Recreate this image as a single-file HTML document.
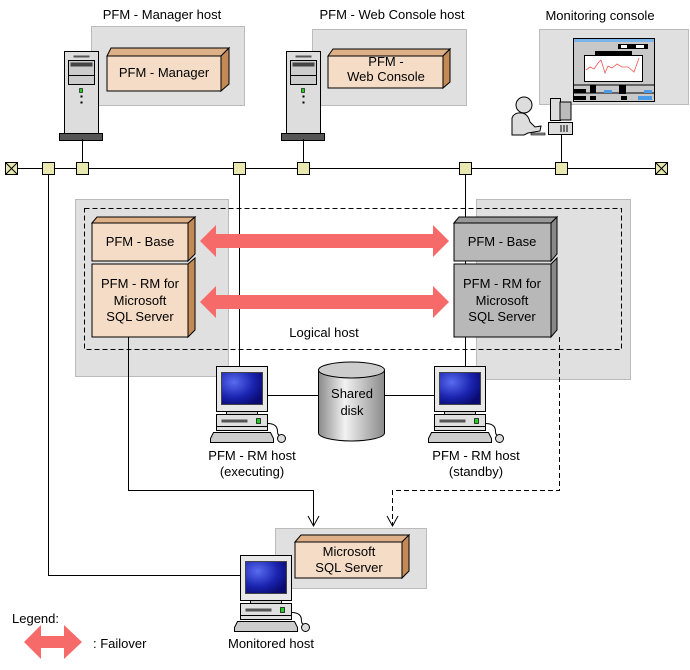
<!DOCTYPE html>
<html><head><meta charset="utf-8"><style>
html,body{margin:0;padding:0;background:#fff;}
svg{display:block;font-family:"Liberation Sans",sans-serif;}
text{font-size:13px;fill:#000;}
</style></head><body>
<svg width="690" height="670" viewBox="0 0 690 670" xmlns="http://www.w3.org/2000/svg">
<defs>
<radialGradient id="scr" cx="0.3" cy="0.3" r="0.8"><stop offset="0" stop-color="#5a6cf0"/><stop offset="0.6" stop-color="#1a24b0"/><stop offset="1" stop-color="#0a0a70"/></radialGradient>
<linearGradient id="cyl" x1="0" x2="1"><stop offset="0" stop-color="#8a8a8a"/><stop offset="0.4" stop-color="#f2f2f2"/><stop offset="1" stop-color="#8a8a8a"/></linearGradient>
<g id="pc">
 <rect x="0" y="0" width="51" height="45" fill="#e8e8e8" stroke="#000"/>
 <rect x="5" y="6" width="41" height="32" fill="url(#scr)" stroke="#444"/>
 <rect x="10" y="45" width="31" height="3" fill="#ccc" stroke="#000"/>
 <rect x="0" y="48" width="51" height="16" fill="#e0e0e0" stroke="#000"/>
 <rect x="5" y="53" width="26" height="3" fill="#555"/>
 <rect x="40" y="52" width="4" height="5" fill="#2c2" stroke="#000" stroke-width="0.7"/>
 <line x1="0" y1="60" x2="51" y2="60" stroke="#000"/>
 <polygon points="-3,66 54,66 57,72 57,76 -6,76 -6,72" fill="#ccc" stroke="#000"/>
 <path d="M51,57 q10,0 10,8 q0,4 3,4" fill="none" stroke="#000"/>
 <ellipse cx="65" cy="72" rx="4" ry="4" fill="#ddd" stroke="#000"/>
</g>
<g id="tower">
 <rect x="0" y="0" width="34" height="82" fill="#ddd" stroke="#000"/>
 <rect x="9" y="4" width="16" height="2" fill="#555"/>
 <rect x="4" y="9" width="26" height="24" fill="#ccc" stroke="#000"/>
 <rect x="6" y="11" width="22" height="4" fill="#444"/>
 <line x1="4" y1="24" x2="30" y2="24" stroke="#000"/>
 <rect x="15" y="37" width="3" height="4" fill="#2c2" stroke="#000" stroke-width="0.6"/>
 <rect x="16" y="44" width="2" height="2" fill="#000"/><rect x="16" y="50" width="2" height="2" fill="#000"/>
 <rect x="-5" y="82" width="43" height="7" fill="#555" stroke="#000"/>
</g>
</defs>

<!-- titles -->
<text x="162" y="19" text-anchor="middle">PFM - Manager host</text>
<text x="392" y="19" text-anchor="middle">PFM - Web Console host</text>
<text x="600" y="20" text-anchor="middle">Monitoring console</text>

<!-- host gray boxes -->
<rect x="91.5" y="26.5" width="153" height="79" fill="#e0e0e0" stroke="#bbb"/>
<rect x="312.5" y="29.5" width="154" height="76" fill="#e0e0e0" stroke="#bbb"/>
<rect x="539.5" y="29.5" width="149" height="75" fill="#e0e0e0" stroke="#bbb"/>

<!-- manager box -->
<polygon points="107,56 111,48 229,48 221,56" fill="#deb087" stroke="#000"/>
<polygon points="221,56 229,48 229,84 221,91" fill="#c48a55" stroke="#000"/>
<rect x="107" y="56" width="114" height="35" fill="#f5dcc6" stroke="#000"/>
<text x="164" y="77" text-anchor="middle">PFM - Manager</text>
<!-- web console box -->
<polygon points="328,56 333,49 450,49 443,56" fill="#deb087" stroke="#000"/>
<polygon points="443,56 450,49 450,82 443,88" fill="#c48a55" stroke="#000"/>
<rect x="328" y="56" width="115" height="32" fill="#f5dcc6" stroke="#000"/>
<text x="386" y="66" text-anchor="middle">PFM -</text>
<text x="386" y="81" text-anchor="middle">Web Console</text>

<use href="#tower" x="64.5" y="51.5"/>
<use href="#tower" x="286.5" y="51.5"/>

<!-- monitoring console -->
<rect x="573.5" y="38.5" width="81" height="63" fill="#c8c8c8" stroke="#000"/>
<rect x="574" y="39" width="80" height="3" fill="#7ab4e8"/>
<rect x="618" y="44" width="30" height="5" fill="#000"/><rect x="621" y="45" width="6" height="3" fill="#fff"/><rect x="636" y="45" width="8" height="3" fill="#fff"/>
<rect x="595" y="51" width="37" height="4" fill="#000"/>
<rect x="584.5" y="55.5" width="58" height="26" fill="#fff" stroke="#000"/>
<polyline points="586,70 590,67 594,69 598,63 601,60 605,73 608,66 612,68 617,64 622,67 628,67 634,72 639,58" fill="none" stroke="#e55" stroke-width="0.8"/>
<line x1="573" y1="85" x2="654" y2="85" stroke="#000"/>
<line x1="573" y1="93" x2="654" y2="93" stroke="#000"/>
<rect x="574" y="89" width="12" height="4" fill="#000"/><rect x="590" y="85" width="6" height="8" fill="#000"/><rect x="604" y="90" width="8" height="3" fill="#4a9be8"/><rect x="619" y="85" width="7" height="9" fill="#000"/><rect x="644" y="90" width="8" height="3" fill="#4a9be8"/>
<rect x="574" y="96" width="12" height="4" fill="#000"/><rect x="590" y="96" width="6" height="4" fill="#000"/><rect x="621" y="96" width="6" height="4" fill="#000"/><rect x="638" y="96" width="14" height="4" fill="#4a9be8"/>
<!-- person and pc -->
<circle cx="524" cy="105" r="8" fill="#ddd" stroke="#000"/>
<path d="M512,135 L512,118 Q514,112 522,113 Q528,114 530,122 L535,127 L541,126 L540,131 L528,133 L524,135 Z" fill="#ddd" stroke="#000"/>
<rect x="531" y="133" width="14" height="2" fill="#999" stroke="#000" stroke-width="0.6"/>
<rect x="550.5" y="98.5" width="10" height="22" fill="#ddd" stroke="#000"/>
<rect x="560" y="102" width="11" height="18" fill="#bbb" stroke="#000"/>
<rect x="548.5" y="122.5" width="24" height="12" fill="#ddd" stroke="#000"/>
<line x1="561" y1="125" x2="561" y2="132" stroke="#000"/><line x1="564" y1="125" x2="564" y2="132" stroke="#000"/><line x1="567" y1="125" x2="567" y2="132" stroke="#000"/>

<!-- network -->
<g stroke="#000" fill="none">
<line x1="12" y1="168.5" x2="662" y2="168.5"/>
<line x1="82.5" y1="139" x2="82.5" y2="168"/>
<line x1="303.5" y1="139" x2="303.5" y2="168"/>
<line x1="561.5" y1="135" x2="561.5" y2="168"/>
<line x1="239.5" y1="168" x2="239.5" y2="366"/>
<line x1="465.5" y1="168" x2="465.5" y2="366"/>
<polyline points="48.5,168 48.5,575.5 240,575.5"/>
</g>
<g fill="#e8e8b0" stroke="#000">
<rect x="42.5" y="162.5" width="12" height="12"/><rect x="76.5" y="162.5" width="12" height="12"/><rect x="233.5" y="162.5" width="12" height="12"/><rect x="297.5" y="162.5" width="12" height="12"/><rect x="459.5" y="162.5" width="12" height="12"/><rect x="555.5" y="162.5" width="12" height="12"/>
<rect x="5.5" y="162.5" width="12" height="12"/><rect x="655.5" y="162.5" width="12" height="12"/>
</g>
<g stroke="#000"><line x1="5.5" y1="162.5" x2="17.5" y2="174.5"/><line x1="17.5" y1="162.5" x2="5.5" y2="174.5"/><line x1="655.5" y1="162.5" x2="667.5" y2="174.5"/><line x1="667.5" y1="162.5" x2="655.5" y2="174.5"/></g>

<!-- cluster -->
<rect x="75.5" y="199.5" width="153" height="177" fill="#e0e0e0" stroke="#bbb"/>
<rect x="476.5" y="199.5" width="154" height="180" fill="#e0e0e0" stroke="#bbb"/>
<rect x="84.5" y="208.5" width="537" height="141" fill="none" stroke="#000" stroke-dasharray="5,3"/>
<line x1="239.5" y1="199" x2="239.5" y2="366" stroke="#000"/>
<line x1="465.5" y1="199" x2="465.5" y2="366" stroke="#000"/>

<!-- left boxes -->
<polygon points="92,223 97,217 195,217 188,223" fill="#deb087" stroke="#000"/>
<polygon points="188,223 195,217 195,254 188,261" fill="#c48a55" stroke="#000"/>
<rect x="92" y="223" width="96" height="38" fill="#f5dcc6" stroke="#000"/>
<text x="140" y="246" text-anchor="middle">PFM - Base</text>
<polygon points="188,264 195,258 195,330 188,337" fill="#c48a55" stroke="#000"/>
<rect x="92" y="264" width="96" height="73" fill="#f5dcc6" stroke="#000"/>
<text x="140" y="288" text-anchor="middle">PFM - RM for</text>
<text x="140" y="305" text-anchor="middle">Microsoft</text>
<text x="140" y="321" text-anchor="middle">SQL Server</text>
<!-- right boxes -->
<polygon points="454,223 459,217 557,217 551,223" fill="#999" stroke="#000"/>
<polygon points="551,223 557,217 557,254 551,261" fill="#888" stroke="#000"/>
<rect x="454" y="223" width="97" height="38" fill="#b8b8b8" stroke="#000"/>
<text x="502" y="246" text-anchor="middle">PFM - Base</text>
<polygon points="551,264 557,258 557,330 551,337" fill="#888" stroke="#000"/>
<rect x="454" y="264" width="97" height="73" fill="#b8b8b8" stroke="#000"/>
<text x="502" y="288" text-anchor="middle">PFM - RM for</text>
<text x="502" y="305" text-anchor="middle">Microsoft</text>
<text x="502" y="321" text-anchor="middle">SQL Server</text>
<text x="324" y="337" text-anchor="middle">Logical host</text>

<!-- failover arrows -->
<polygon points="200,241 216,225 216,234 433,234 433,225 449,241 433,257 433,248 216,248 216,257" fill="#f76a6a"/>
<polygon points="200,302 216,286 216,295 433,295 433,286 449,302 433,318 433,309 216,309 216,318" fill="#f76a6a"/>

<!-- connectors to monitored -->
<polyline points="128.5,337 128.5,490.5 313.5,490.5 313.5,525" fill="none" stroke="#000"/>
<polyline points="308,516 313.5,526 319,516" fill="none" stroke="#000"/>
<polyline points="559.5,337 559.5,490.5 392.5,490.5 392.5,525" fill="none" stroke="#000" stroke-dasharray="5,3"/>
<polyline points="387,516 392.5,526 398,516" fill="none" stroke="#000"/>

<!-- shared disk -->
<line x1="267" y1="395.5" x2="318" y2="395.5" stroke="#000"/>
<line x1="384" y1="395.5" x2="434" y2="395.5" stroke="#000"/>
<path d="M318.5,370 L318.5,433 A33,8 0 0 0 384.5,433 L384.5,370 Z" fill="url(#cyl)" stroke="#000"/>
<ellipse cx="351.5" cy="370" rx="33" ry="8" fill="#ccc" stroke="#000"/>
<text x="352" y="398" text-anchor="middle">Shared</text>
<text x="352" y="415" text-anchor="middle">disk</text>

<use href="#pc" x="216.5" y="366.5"/>
<use href="#pc" x="434.5" y="366.5"/>
<text x="252" y="460" text-anchor="middle">PFM - RM host</text>
<text x="252" y="476" text-anchor="middle">(executing)</text>
<text x="476" y="460" text-anchor="middle">PFM - RM host</text>
<text x="476" y="476" text-anchor="middle">(standby)</text>

<!-- monitored host -->
<rect x="275.5" y="528.5" width="151" height="60" fill="#e0e0e0" stroke="#bbb"/>
<polygon points="295,542 301,535 409,535 402,542" fill="#deb087" stroke="#000"/>
<polygon points="402,542 409,535 409,571 402,578" fill="#c48a55" stroke="#000"/>
<rect x="295" y="542" width="107" height="36" fill="#f5dcc6" stroke="#000"/>
<text x="349" y="556" text-anchor="middle">Microsoft</text>
<text x="349" y="572" text-anchor="middle">SQL Server</text>
<use href="#pc" x="240.5" y="555.5"/>
<text x="271" y="648" text-anchor="middle">Monitored host</text>

<!-- legend -->
<text x="12" y="623">Legend:</text>
<polygon points="24,642 41,625 41,636 64,636 64,625 82,642 64,659 64,648 41,648 41,659" fill="#f76a6a"/>
<text x="93" y="648">: Failover</text>
</svg>
</body></html>
